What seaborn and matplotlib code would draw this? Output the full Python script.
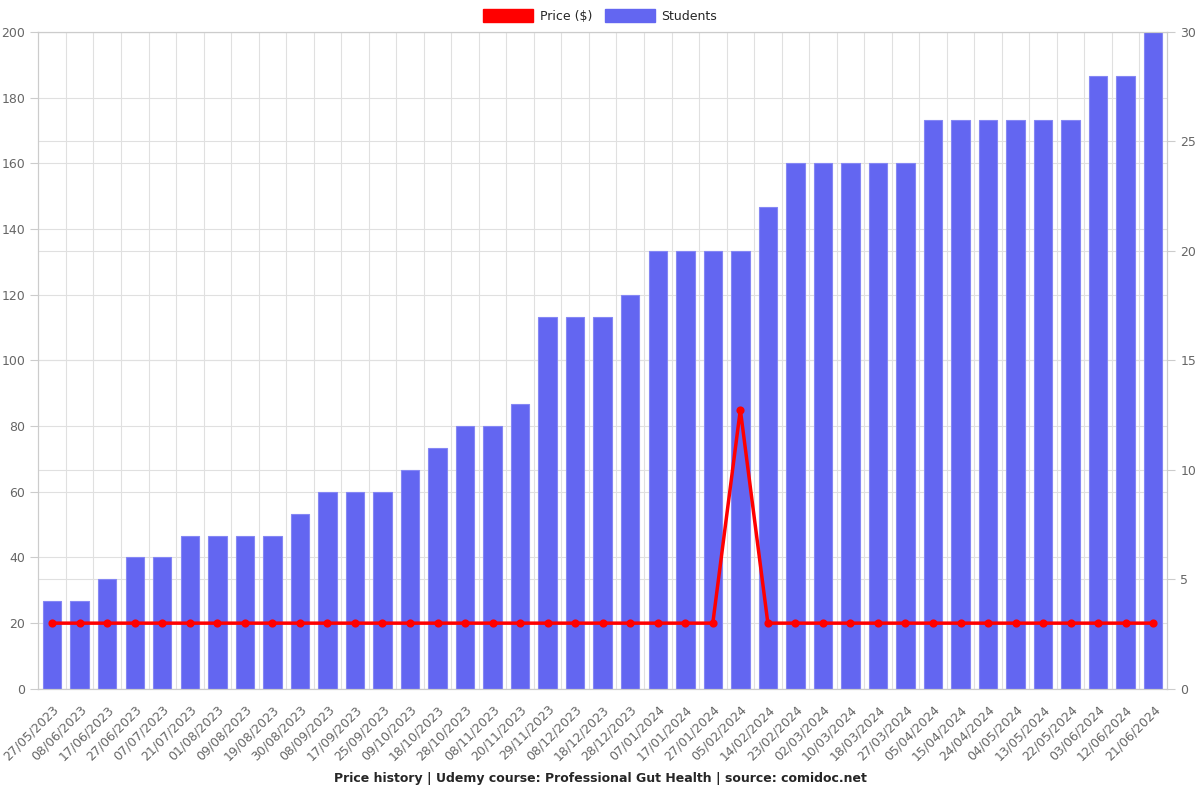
import matplotlib
matplotlib.use('Agg')
import matplotlib.pyplot as plt
import matplotlib.patches as mpatches
import numpy as np
import pandas as pd
import seaborn as sns

# Data
dates = ['27/05/2023', '08/06/2023', '17/06/2023', '27/06/2023', '07/07/2023',
         '21/07/2023', '01/08/2023', '09/08/2023', '19/08/2023', '30/08/2023',
         '08/09/2023', '17/09/2023', '25/09/2023', '09/10/2023', '18/10/2023',
         '28/10/2023', '08/11/2023', '20/11/2023', '29/11/2023', '08/12/2023',
         '18/12/2023', '28/12/2023', '07/01/2024', '17/01/2024', '27/01/2024',
         '05/02/2024', '14/02/2024', '23/02/2024', '02/03/2024', '10/03/2024',
         '18/03/2024', '27/03/2024', '05/04/2024', '15/04/2024', '24/04/2024',
         '04/05/2024', '13/05/2024', '22/05/2024', '03/06/2024', '12/06/2024',
         '21/06/2024']
students = [4, 4, 5, 6, 6, 7, 7, 7, 7, 8,
            9, 9, 9, 10, 11, 12, 12, 13, 17, 17,
            17, 18, 20, 20, 20, 20, 22, 24, 24, 24,
            24, 24, 26, 26, 26, 26, 26, 26, 28, 28,
            30]
price = [19.99] * 25 + [84.99] + [19.99] * 15

df = pd.DataFrame({'date': dates, 'students': students, 'price': price})

bar_color = '#6366F1'
bar_edge = '#8587f4'
line_color = '#FF0000'
grid_color = '#e0e0e0'
text_color = '#666666'
n = len(dates)

sns.set_style('white')
plt.rcParams['font.family'] = ['DejaVu Sans']

fig, ax = plt.subplots(figsize=(12, 8), dpi=100)
fig.subplots_adjust(left=0.032, right=0.9725, top=0.96, bottom=0.139)
ax2 = ax.twinx()

# students bars on the right axis
sns.barplot(data=df, x='date', y='students', color=bar_color, width=0.67,
            saturation=1, ax=ax2, zorder=2, edgecolor=bar_edge, linewidth=0.8)
ax2.set_ylim(0, 30)
ax2.set_yticks(range(0, 31, 5))
ax2.set_ylabel('')

# price line on the left axis, drawn on top
sns.pointplot(data=df, x='date', y='price', color=line_color, ax=ax,
              markers='o', markersize=4, linewidth=2.5, zorder=5)
ax.set_ylim(0, 200)
ax.set_yticks(range(0, 201, 20))
ax.set_xlim(-0.5, n - 0.5)
ax.set_xlabel('')
ax.set_ylabel('')
ax.set_zorder(ax2.get_zorder() + 1)
ax.patch.set_visible(False)

ax.set_xticks(range(n))
ax.set_xticklabels(dates, rotation=45, ha='right', rotation_mode='anchor')
ax.set_xticks(np.arange(-0.5, n, 1), minor=True)
ax.grid(False)

# grids behind the bars (on the bar axis): category boundaries + left ticks
ax2.set_axisbelow(True)
ax2.grid(False)
for xv in np.arange(0.5, n - 0.5, 1):
    ax2.axvline(xv, color=grid_color, linewidth=0.8, zorder=0)
for yv in range(0, 201, 20):
    ax2.axhline(yv * 30 / 200, color=grid_color, linewidth=0.8, zorder=0)
for yv in range(0, 31, 5):
    ax2.axhline(yv, color=grid_color, linewidth=0.8, zorder=0)

for a in (ax, ax2):
    a.tick_params(axis='both', colors=text_color, labelsize=9)
    a.tick_params(axis='y', length=6, color='#cccccc')
    for s in a.spines.values():
        s.set_color('#cccccc')
ax.tick_params(axis='x', which='major', length=0, pad=10)
ax.tick_params(axis='x', which='minor', length=6, color='#cccccc')

handles = [mpatches.Patch(color=line_color, label='Price ($)'),
           mpatches.Patch(color=bar_color, label='Students')]
fig.legend(handles=handles, loc='upper center', bbox_to_anchor=(0.5, 1.003),
           ncol=2, frameon=False, fontsize=9, handlelength=4.0,
           handleheight=1.3, columnspacing=1.0, handletextpad=0.5)

fig.text(0.5, 0.022,
         'Price history | Udemy course: Professional Gut Health | source: comidoc.net',
         ha='center', fontsize=9, fontweight='bold')

plt.savefig('out.png', dpi=100)
plt.close()
